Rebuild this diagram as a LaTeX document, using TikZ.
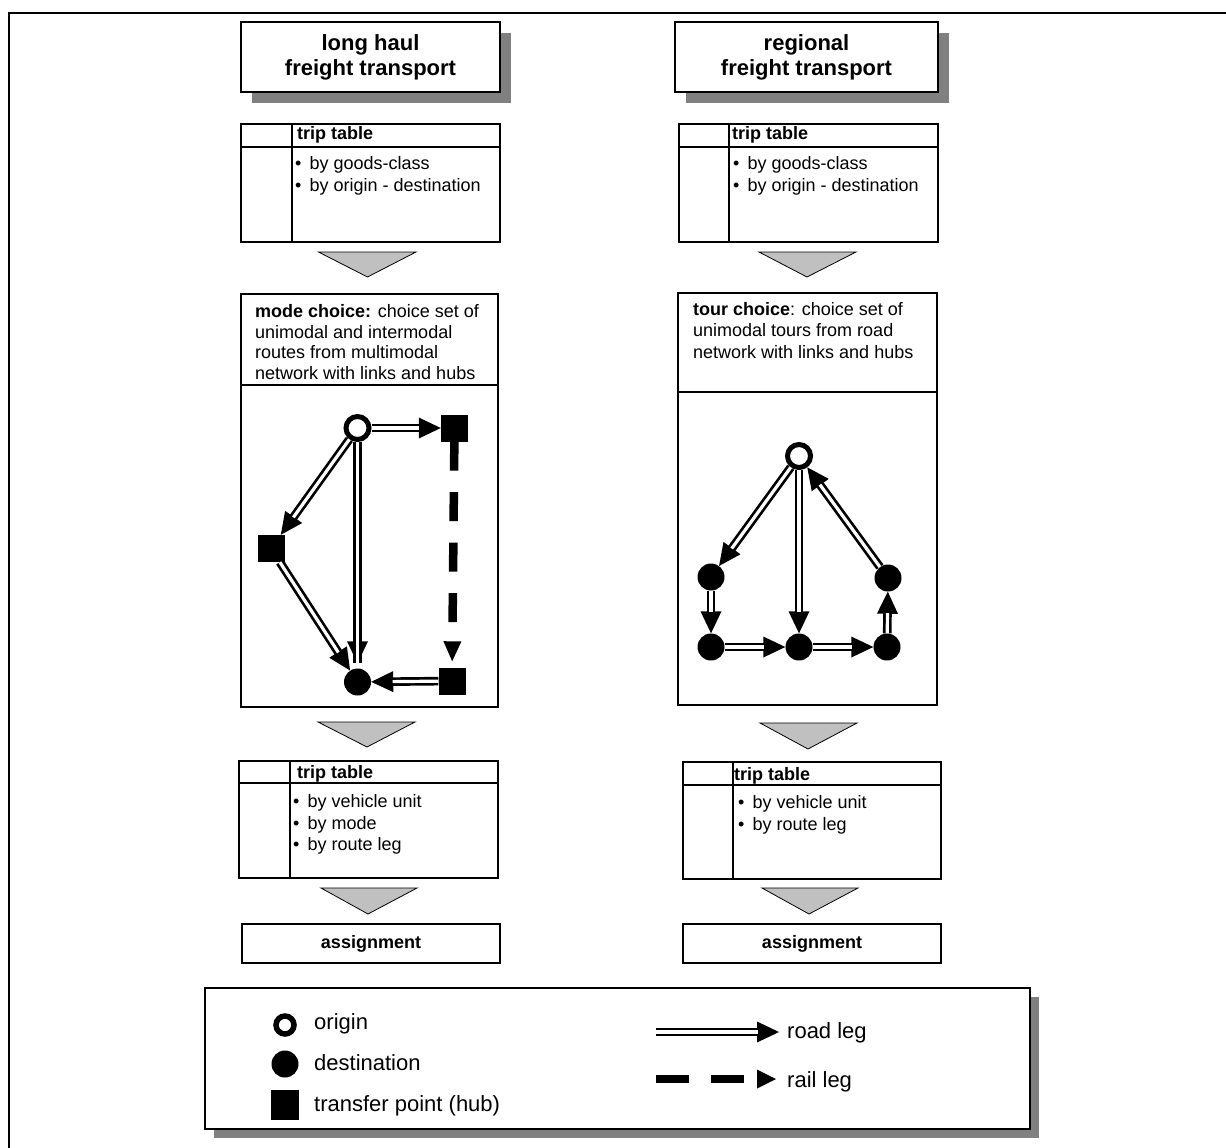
\documentclass[tikz,border=0pt]{standalone}
\usepackage{fontspec}
\setmainfont{Liberation Sans}
\usetikzlibrary{arrows.meta,shadows}
\definecolor{shadowgray}{HTML}{808080}
\definecolor{funnelgray}{HTML}{C0C0C0}
\newcommand\roadleg[3][]{%
  \draw[roadtip,#1] (#2) -- (#3);
  \draw[roadshaft,#1] (#2) -- (#3);}
\newcommand\bul{•\hspace{0.45em}}
\tikzset{
  frame/.style={line width=2pt},
  box/.style={draw, line width=1.3pt, fill=white, inner sep=0pt, outer sep=0pt},
  boxshadow/.style={drop shadow={shadow xshift=#1, shadow yshift=-#1, fill=shadowgray, opacity=1}},
  titlebox/.style={box, minimum height=70pt, align=center,
    font=\bfseries\fontsize{22}{25}\selectfont, boxshadow=11pt},
  rule/.style={line width=1.3pt},
  txt/.style={inner sep=0pt, anchor=base west, font=\fontsize{18}{21}\selectfont},
  btxt/.style={txt, font=\bfseries\fontsize{18}{21}\selectfont},
  ctxt/.style={inner sep=0pt, anchor=base, font=\bfseries\fontsize{18}{21}\selectfont},
  legtxt/.style={inner sep=0pt, anchor=base west, font=\fontsize{22}{26}\selectfont},
  funnel/.style={fill=funnelgray, draw=black, line width=0.8pt},
  orig/.style={circle, draw, line width=5pt, fill=white, inner sep=0pt, minimum size=23pt},
  dest/.style={circle, fill=black, inner sep=0pt, minimum size=27pt},
  hub/.style={rectangle, fill=black, inner sep=0pt, minimum size=27pt},
  roadtip/.style={line width=0.6pt, -{Triangle[length=22pt,width=21pt,line width=0pt]}},
  roadshaft/.style={double, double distance=3.2pt, line width=2.7pt, shorten >=21.5pt},
  rail/.style={line width=8.5pt, dash pattern=on 29pt off 21.5pt,
    -{Triangle[length=20pt,width=18pt,line width=0pt]}},
  railleg/.style={line width=8.5pt, dash pattern=on 33pt off 22pt,
    -{Triangle[length=19pt,width=19pt,line width=0pt]}},
}
\begin{document}
\begin{tikzpicture}[x=1pt,y=-1pt]
\useasboundingbox (0,0) rectangle (1226,1148);
\fill[white] (0,0) rectangle (1226,1148);
% outer frame (partly cut off)
\coordinate (fa) at (9,1160);
\coordinate (fb) at (9,13);
\coordinate (fc) at (1240,13);
\draw[frame] (fa) -- (fb) -- (fc);

% ---------- titles ----------
\node[titlebox, minimum width=259pt] (t1) at (370.5,57) {long haul\\freight transport};
\node[titlebox, minimum width=263pt] (t2) at (806.5,57) {regional\\freight transport};

% ---------- upper trip tables ----------
\node[box, minimum width=259pt, minimum height=118pt, anchor=north west] (tt1) at (241,124) {};
\draw[rule] ([yshift=-23pt]tt1.north west) -- ([yshift=-23pt]tt1.north east);
\draw[rule] ([xshift=51pt]tt1.north west) -- ([xshift=51pt]tt1.south west);
\node[btxt] (tt1h) at (297,139) {trip table};
\node[txt] (tt1a) at (295,169) {\bul by goods-class};
\node[txt] (tt1b) at (295,191) {\bul by origin - destination};

\node[box, minimum width=259pt, minimum height=118pt, anchor=north west] (tt2) at (679,124) {};
\draw[rule] ([yshift=-23pt]tt2.north west) -- ([yshift=-23pt]tt2.north east);
\draw[rule] ([xshift=50pt]tt2.north west) -- ([xshift=50pt]tt2.south west);
\node[btxt] (tt2h) at (732,139) {trip table};
\node[txt] (tt2a) at (733,169) {\bul by goods-class};
\node[txt] (tt2b) at (733,191) {\bul by origin - destination};

% ---------- funnels 1 ----------
\draw[funnel] (318.5,252) -- (416,252) -- (367.5,277) -- cycle;
\draw[funnel] (759,252) -- (856,252) -- (807,277) -- cycle;

% ---------- mode choice ----------
\node[box, minimum width=257pt, minimum height=413pt, anchor=north west] (mc) at (241,294) {};
\draw[rule] ([yshift=-91pt]mc.north west) -- ([yshift=-91pt]mc.north east);
\node[txt] (mc1) at (255,317) {\textbf{mode choice:} choice set of};
\node[txt] (mc2) at (255,338) {unimodal and intermodal};
\node[txt] (mc3) at (255,358.5) {routes from multimodal};
\node[txt] (mc4) at (255,379) {network with links and hubs};

\node[orig] (O1) at (357.5,428) {};
\node[hub]  (H1) at (454.5,428) {};
\node[hub]  (H2) at (271,548.5) {};
\node[dest] (D1) at (357.5,682) {};
\node[hub]  (H3) at (452,681) {};
\roadleg{O1}{H1}
\roadleg{O1}{H2}
\roadleg[shorten >=5pt]{O1}{D1}
\roadleg{H2}{D1}
\roadleg{H3}{D1}
\draw[rail, shorten >=6pt] (H1) -- (H3);

% ---------- tour choice ----------
\node[box, minimum width=259pt, minimum height=412pt, anchor=north west] (tc) at (678,293) {};
\draw[rule] ([yshift=-99pt]tc.north west) -- ([yshift=-99pt]tc.north east);
\node[txt] (tc1) at (693,315) {\textbf{tour choice}: choice set of};
\node[txt] (tc2) at (693,336.5) {unimodal tours from road};
\node[txt] (tc3) at (693,358) {network with links and hubs};

\node[orig] (O2) at (799,456) {};
\node[dest] (A) at (711,577) {};
\node[dest] (B) at (711,647) {};
\node[dest] (C) at (799,647) {};
\node[dest] (E) at (887,647) {};
\node[dest] (F) at (888,578) {};
\roadleg{O2}{A}
\roadleg{A}{B}
\roadleg{B}{C}
\roadleg{O2}{C}
\roadleg{C}{E}
\roadleg{E}{F}
\roadleg{F}{O2}

% ---------- funnels 2 ----------
\draw[funnel] (318,722) -- (415,722) -- (367,747) -- cycle;
\draw[funnel] (760,723) -- (857,723) -- (808,749) -- cycle;

% ---------- lower trip tables ----------
\node[box, minimum width=259pt, minimum height=117pt, anchor=north west] (tt3) at (239,761) {};
\draw[rule] ([yshift=-22pt]tt3.north west) -- ([yshift=-22pt]tt3.north east);
\draw[rule] ([xshift=51pt]tt3.north west) -- ([xshift=51pt]tt3.south west);
\node[btxt] (tt3h) at (297,778) {trip table};
\node[txt] (tt3a) at (293,807) {\bul by vehicle unit};
\node[txt] (tt3b) at (293,829) {\bul by mode};
\node[txt] (tt3c) at (293,850) {\bul by route leg};

\node[box, minimum width=258pt, minimum height=117pt, anchor=north west] (tt4) at (683,762) {};
\draw[rule] ([yshift=-23pt]tt4.north west) -- ([yshift=-23pt]tt4.north east);
\draw[rule] ([xshift=50pt]tt4.north west) -- ([xshift=50pt]tt4.south west);
\node[btxt] (tt4h) at (734,780) {trip table};
\node[txt] (tt4a) at (738,808) {\bul by vehicle unit};
\node[txt] (tt4b) at (738,830) {\bul by route leg};

% ---------- funnels 3 ----------
\draw[funnel] (321,888) -- (417,888) -- (368,914) -- cycle;
\draw[funnel] (762,888) -- (858,888) -- (809,914) -- cycle;

% ---------- assignment ----------
\node[box, minimum width=258pt, minimum height=39pt, anchor=north west] (as1) at (242,924) {};
\node[ctxt] (as1t) at (371,948) {assignment};
\node[box, minimum width=258pt, minimum height=39pt, anchor=north west] (as2) at (683,924) {};
\node[ctxt] (as2t) at (812,948) {assignment};

% ---------- legend ----------
\node[box, minimum width=825pt, minimum height=141pt, anchor=north west, boxshadow=9pt] (leg) at (205,988) {};
\node[orig, line width=5.5pt, minimum size=18pt] (lo) at (285,1025) {};
\node[dest, minimum size=27pt] (ld) at (285,1064) {};
\node[hub, minimum width=28pt, minimum height=30pt] (lhub) at (285,1105) {};
\node[legtxt] (lot) at (314,1029) {origin};
\node[legtxt] (ldt) at (314,1070) {destination};
\node[legtxt] (lht) at (314,1111) {transfer point (hub)};
\coordinate (roadA) at (656,1032);
\coordinate (roadB) at (779,1032);
\roadleg{roadA}{roadB}
\node[legtxt] (lrt) at (787,1038) {road leg};
\coordinate (railA) at (656,1079);
\coordinate (railB) at (776,1079);
\draw[railleg] (railA) -- (railB);
\node[legtxt] (lrl) at (787,1087) {rail leg};
\end{tikzpicture}
\end{document}
